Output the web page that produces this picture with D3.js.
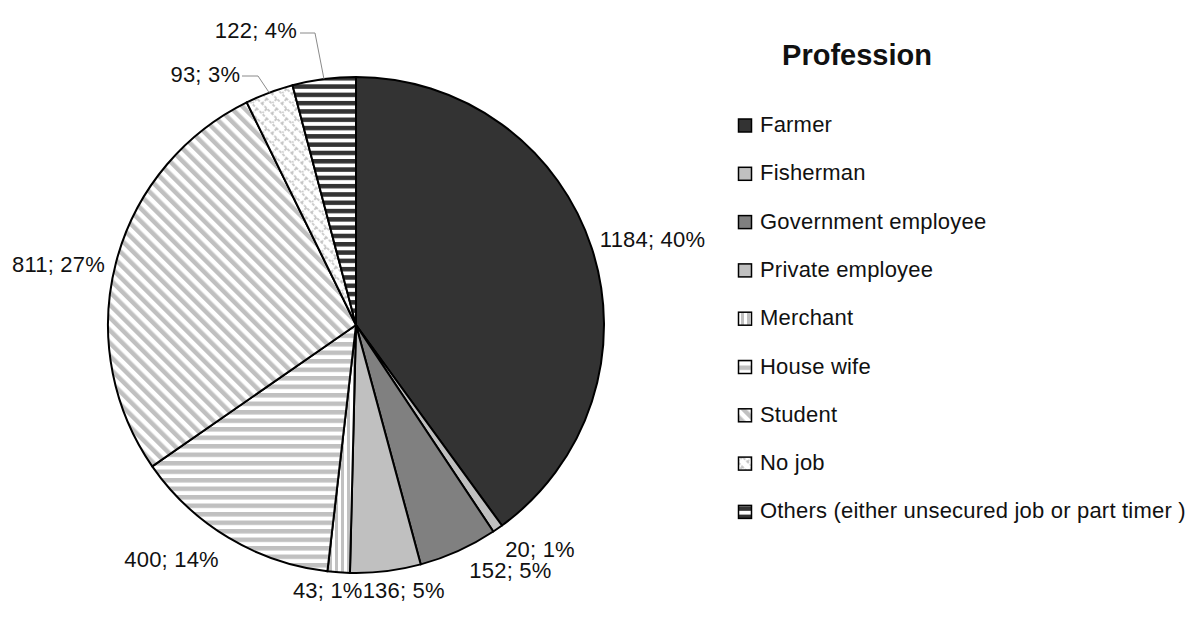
<!DOCTYPE html>
<html>
<head>
<meta charset="utf-8">
<script src="https://cdn.jsdelivr.net/npm/d3@7"></script>
<style>
  html, body { margin: 0; padding: 0; background: #fff; }
  svg { display: block; }
  text { font-family: "Liberation Sans", Arial, sans-serif; fill: #111; }
</style>
</head>
<body>
<svg id="chart" width="1200" height="630"></svg>
<script>
// ---- data ----
const categories = ["Farmer", "Fisherman", "Government employee", "Private employee", "Merchant",
  "House wife", "Student", "No job", "Others (either unsecured job or part timer )"];
const counts = [1184, 20, 152, 136, 43, 400, 811, 93, 122];
const percentLabels = ["40%", "1%", "5%", "5%", "1%", "14%", "27%", "3%", "4%"];
const legendTitle = "Profession";

// ---- layout / style (kept separate from data) ----
const W = 1200, H = 630;
const cx = 356, cy = 325, R = 248;
const fills = ["#333333", "#c0c0c0", "#808080", "#c0c0c0", "url(#pVert)", "url(#pHorz)",
  "url(#pDiag)", "url(#pLattice)", "url(#pBlack)"];
// label offsets from slice mid-point on the rim: [dx, dy, anchor]
const labelOffsets = [[8, -1, "start"], [7.5, 28, "start"], [11, 27, "start"], [-23, 27, "start"],
  [24, 26, "end"], [-9.6, 29, "end"], [-11, 9.5, "end"], [-29, -11, "end"], [-27, -41, "end"]];
// leader lines for the small top slices
const leaders = { 7: { y: 76, x0: 242, x1: 258 }, 8: { y: 33, x0: 300, x1: 315 } };

const svg = d3.select("#chart");
const defs = svg.append("defs");

// patterns
const pv = defs.append("pattern").attr("id", "pVert").attr("patternUnits", "userSpaceOnUse")
  .attr("width", 6).attr("height", 6);
pv.append("rect").attr("width", 6).attr("height", 6).attr("fill", "#fff");
pv.append("rect").attr("x", 3).attr("width", 3).attr("height", 6).attr("fill", "#c0c0c0");

const ph = defs.append("pattern").attr("id", "pHorz").attr("patternUnits", "userSpaceOnUse")
  .attr("width", 8).attr("height", 8.5);
ph.append("rect").attr("width", 8).attr("height", 8.5).attr("fill", "#fff");
ph.append("rect").attr("y", 0).attr("width", 8).attr("height", 4.5).attr("fill", "#c0c0c0");

const pd = defs.append("pattern").attr("id", "pDiag").attr("patternUnits", "userSpaceOnUse")
  .attr("width", 9).attr("height", 9).attr("patternTransform", "rotate(-45)");
pd.append("rect").attr("width", 9).attr("height", 9).attr("fill", "#fff");
pd.append("rect").attr("width", 4.5).attr("height", 9).attr("fill", "#c0c0c0");

const pl = defs.append("pattern").attr("id", "pLattice").attr("patternUnits", "userSpaceOnUse")
  .attr("width", 14).attr("height", 14).attr("patternTransform", "rotate(45)");
pl.append("rect").attr("width", 14).attr("height", 14).attr("fill", "#fff");
pl.append("path").attr("d", "M0,1H14 M0,8H14 M1,1V8 M8,8V14")
  .attr("stroke", "#bdbdbd").attr("stroke-width", 1.6).attr("fill", "none")
  .attr("stroke-dasharray", "3,1.5");

const pb = defs.append("pattern").attr("id", "pBlack").attr("patternUnits", "userSpaceOnUse")
  .attr("width", 8).attr("height", 8.3);
pb.append("rect").attr("width", 8).attr("height", 8.3).attr("fill", "#fff");
pb.append("rect").attr("width", 8).attr("height", 4.5).attr("fill", "#333");

// pie
const pie = d3.pie().value(d => d).sort(null);
const arcs = pie(counts);
const arc = d3.arc().innerRadius(0).outerRadius(R);

const g = svg.append("g").attr("transform", `translate(${cx},${cy})`);
g.selectAll("path.slice").data(arcs).enter().append("path")
  .attr("class", "slice")
  .attr("d", arc)
  .attr("fill", (d, i) => fills[i])
  .attr("stroke", "#000").attr("stroke-width", 2).attr("stroke-linejoin", "round");

// labels
const rim = d => {
  const a = (d.startAngle + d.endAngle) / 2;
  return [cx + R * Math.sin(a), cy - R * Math.cos(a)];
};
arcs.forEach((d, i) => {
  const [px, py] = rim(d);
  const [dx, dy, anchor] = labelOffsets[i];
  svg.append("text")
    .attr("x", px + dx).attr("y", py + dy)
    .attr("text-anchor", anchor)
    .attr("font-size", 22).attr("letter-spacing", 0.2)
    .text(`${counts[i]}; ${percentLabels[i]}`);
  if (leaders[i]) {
    const L = leaders[i];
    svg.append("path")
      .attr("d", `M${L.x0},${L.y}H${L.x1}L${px},${py}`)
      .attr("fill", "none").attr("stroke", "#8a8a8a").attr("stroke-width", 1);
  }
});

// legend
svg.append("text").attr("x", 857).attr("y", 65).attr("text-anchor", "middle")
  .attr("font-size", 29).attr("font-weight", "bold").text(legendTitle);

const lg = svg.append("g");
categories.forEach((c, i) => {
  const by = 132 + i * 48.3;
  lg.append("rect").attr("x", 738.5).attr("y", by - 13).attr("width", 13).attr("height", 13)
    .attr("fill", fills[i]).attr("stroke", "#000").attr("stroke-width", 1.5);
  lg.append("text").attr("x", 760).attr("y", by).attr("font-size", 22)
    .attr("letter-spacing", 0.2).text(c);
});
</script>
</body>
</html>
